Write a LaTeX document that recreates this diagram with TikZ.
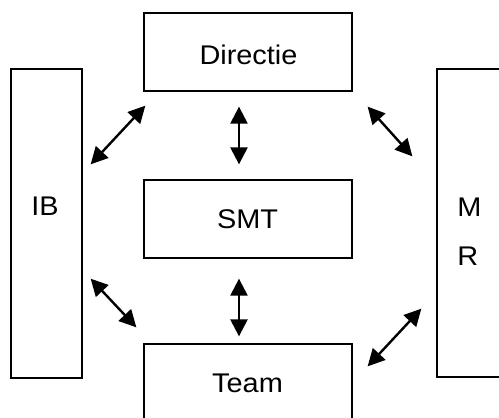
\documentclass[tikz,border=0pt]{standalone}
\usepackage{fontspec}
\usetikzlibrary{arrows.meta,calc}
\newfontfamily\boxfont[FakeStretch=1.07]{Liberation Sans}
\tikzset{box/.style={draw=black,line width=.65pt,inner sep=0pt},lbl/.style={inner sep=0pt,font=\boxfont\fontsize{13.5}{16}\selectfont},arr/.style={{Triangle[length=8.5pt,width=8.5pt]}-{Triangle[length=8.5pt,width=8.5pt]},line width=1.2pt}}

\begin{document}
\begin{tikzpicture}[x=.5pt,y=-.5pt]
\useasboundingbox (0,0) rectangle (499,418);
\clip (0,0) rectangle (499,418);

% boxes
\node[box,minimum width=104pt,minimum height=39pt] (dir) at (248,52) {};
\node[box,minimum width=104pt,minimum height=39pt] (smt) at (248,219) {};
\node[box,minimum width=104pt,minimum height=39pt] (team) at (248,383) {};
\node[box,minimum width=35.5pt,minimum height=154.5pt] (ib) at (46.5,223.5) {};
\node[box,minimum width=35.5pt,minimum height=154pt] (mr) at (472.5,223) {};

% texts
\node[lbl] (dirtxt) at (248.5,55) {Directie};
\node[lbl] (smttxt) at (247.5,219.5) {SMT};
\node[lbl] (teamtxt) at (247.5,383.5) {Team};
\node[lbl] (ibtxt) at (45,206.5) {IB};
\node[lbl,align=left,font=\boxfont\fontsize{13.5}{24.5}\selectfont] (mrtxt) at (469.5,231.5) {M\\R};

% arrows
\draw[arr] ($(dir.south)+(-9,15)$)--($(smt.north)+(-9,-15)$);
\draw[arr] ($(smt.south)+(-9,20)$)--($(team.north)+(-9,-7)$);
\draw[arr] ($(ib.north east)+(8,96)$)--($(dir.south west)+(2,14)$);
\draw[arr] ($(dir.south east)+(15,15)$)--($(mr.north west)+(-24,88)$);
\draw[arr] ($(ib.south east)+(8,-100)$)--($(team.north west)+(-7,-16)$);
\draw[arr] ($(team.north east)+(15,23)$)--($(mr.south west)+(-15,-69)$);
\end{tikzpicture}
\end{document}
